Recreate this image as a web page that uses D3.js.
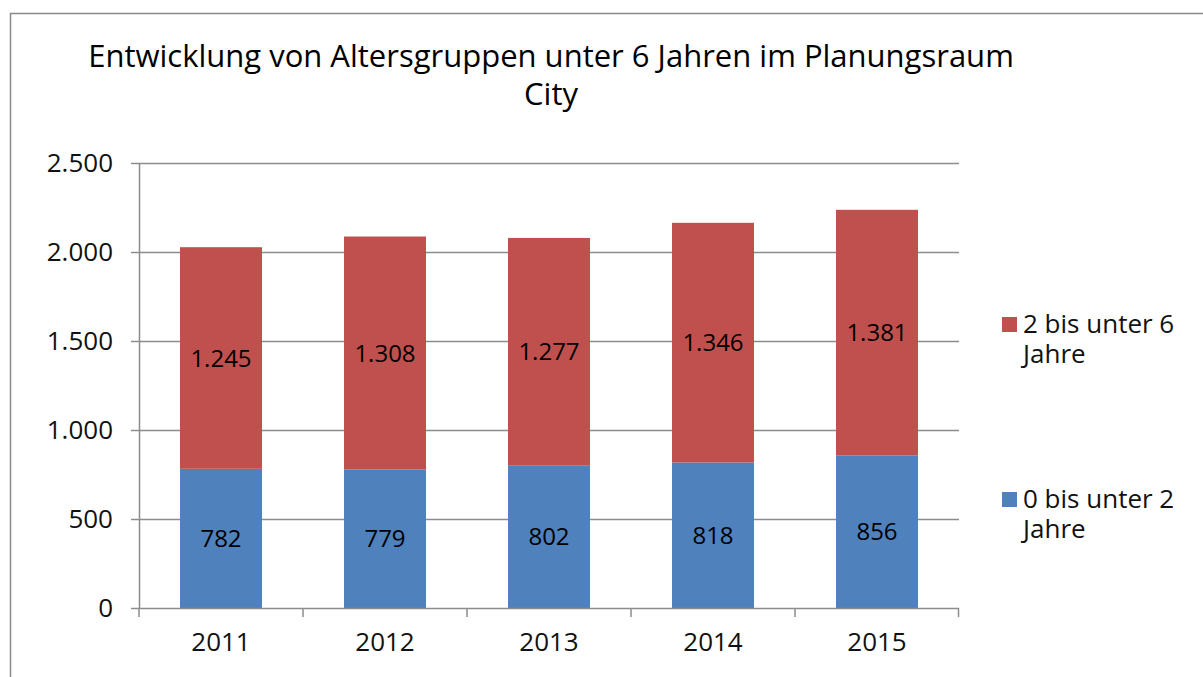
<!DOCTYPE html>
<html>
<head>
<meta charset="utf-8">
<script src="https://cdn.jsdelivr.net/npm/d3@7"></script>
<style>
  html, body { margin: 0; padding: 0; background: #fff; overflow: hidden; }
  svg { display: block; font-family: "Open Sans", sans-serif; }
</style>
</head>
<body>
<svg id="chart" width="1203" height="677"></svg>
<script>
// data
const years = ["2011", "2012", "2013", "2014", "2015"];
const under2 = [782, 779, 802, 818, 856];
const from2to6 = [1245, 1308, 1277, 1346, 1381];
const yTicks = [0, 500, 1000, 1500, 2000, 2500];
const seriesNames = [["2 bis unter 6", "Jahre"], ["0 bis unter 2", "Jahre"]];

const W = 1203, H = 677;
const m = { top: 163, left: 139, right: 244, bottom: 69 };
const w = W - m.left - m.right;
const h = H - m.top - m.bottom;

const RED = "#C0504D", BLUE = "#4F81BD", GRID = "#8c8c8c";
const fmt = d3.formatLocale({ decimal: ",", thousands: ".", grouping: [3], currency: ["", "€"] }).format(",");

const svg = d3.select("#chart");

// outer frame (runs off the right and bottom edge)
svg.append("rect")
    .attr("x", 10.5).attr("y", 13.5).attr("width", 1400).attr("height", 900)
    .attr("fill", "none").attr("stroke", "#8a8a8a").attr("stroke-width", 1.5);

// title
svg.append("text")
    .attr("x", 551).attr("y", 67)
    .attr("text-anchor", "middle").attr("font-size", 31).attr("fill", "#000")
    .selectAll("tspan")
    .data(["Entwicklung von Altersgruppen unter 6 Jahren im Planungsraum", "City"])
    .join("tspan")
    .attr("x", 551).attr("dy", (d, i) => i ? 38 : 0)
    .text(d => d);

const g = svg.append("g").attr("transform", `translate(${m.left},${m.top})`);

const x = d3.scaleBand().domain(years).range([0, w]).paddingInner(0.5).paddingOuter(0.25);
const y = d3.scaleLinear().domain([0, 2500]).range([h, 0]);

// gridlines
g.append("g").selectAll("line")
    .data(yTicks.filter(d => d > 0))
    .join("line")
    .attr("x1", 0).attr("x2", w)
    .attr("y1", d => Math.round(y(d)) + 0.5).attr("y2", d => Math.round(y(d)) + 0.5)
    .attr("stroke", GRID).attr("stroke-width", 1.5);

// stacked bars
const rows = years.map((yr, i) => ({ year: yr, a: under2[i], b: from2to6[i] }));
const stack = d3.stack().keys(["a", "b"])(rows);
const colors = { a: BLUE, b: RED };

stack.forEach(layer => {
    g.append("g").selectAll("rect")
        .data(layer)
        .join("rect")
        .attr("x", d => x(d.data.year))
        .attr("width", x.bandwidth())
        .attr("y", d => y(d[1]))
        .attr("height", d => y(d[0]) - y(d[1]))
        .attr("fill", colors[layer.key]);

    g.append("g").selectAll("text")
        .data(layer)
        .join("text")
        .attr("x", d => x(d.data.year) + x.bandwidth() / 2)
        .attr("y", d => (y(d[0]) + y(d[1])) / 2)
        .attr("dy", "0.36em")
        .attr("text-anchor", "middle").attr("font-size", 24).attr("fill", "#000")
        .text(d => fmt(d[1] - d[0]));
});

// y axis
g.append("g")
    .call(d3.axisLeft(y).tickValues(yTicks).tickFormat(fmt).tickSize(8).tickPadding(18))
    .attr("font-family", null).attr("font-size", null)
    .call(a => a.selectAll("line").attr("stroke", GRID).attr("stroke-width", 1.5))
    .call(a => a.select(".domain").attr("stroke", GRID).attr("stroke-width", 1.5).attr("d", `M0.5,0V${h}`))
    .call(a => a.selectAll("text").attr("font-size", 26).attr("fill", "#111"));

// x axis
const step = x.step();
g.append("g").attr("transform", `translate(0,${h})`)
    .call(d3.axisBottom(x).tickSize(0))
    .attr("font-family", null).attr("font-size", null)
    .call(a => a.select(".domain").remove())
    .call(a => a.selectAll("text").attr("font-size", 26).attr("fill", "#111")
        .attr("y", 43).attr("dy", 0));

g.append("line")
    .attr("x1", 0).attr("x2", w).attr("y1", h + 0.5).attr("y2", h + 0.5)
    .attr("stroke", GRID).attr("stroke-width", 1.5);

g.append("g").selectAll("line")
    .data(d3.range(years.length + 1))
    .join("line")
    .attr("x1", i => Math.min(i * step, w - 0.5)).attr("x2", i => Math.min(i * step, w - 0.5))
    .attr("y1", h).attr("y2", h + 9)
    .attr("stroke", GRID).attr("stroke-width", 1.5);

// legend
const legend = svg.append("g").attr("transform", "translate(1002,0)");
const legendY = [317, 492];
[RED, BLUE].forEach((c, i) => {
    legend.append("rect")
        .attr("x", 0).attr("y", legendY[i]).attr("width", 15).attr("height", 15)
        .attr("fill", c);
    seriesNames[i].forEach((line, j) => {
        legend.append("text")
            .attr("font-size", 26).attr("fill", "#111")
            .attr("x", 21).attr("y", legendY[i] + 16 + j * 30)
            .text(line);
    });
});
</script>
</body>
</html>
